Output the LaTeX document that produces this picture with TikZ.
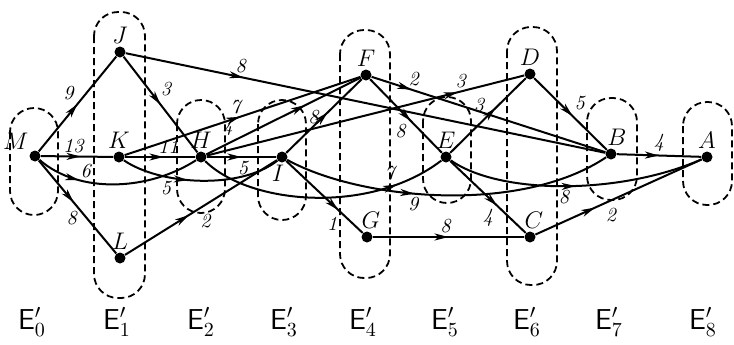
\documentclass[tikz,border=0pt]{standalone}
\usepackage{amsmath}
\usepackage{tikz}
\usetikzlibrary{arrows.meta,decorations.markings}

\tikzset{
  vtx/.style={circle,fill,inner sep=0pt,minimum size=5.5pt},
  nl/.style={font=\large,inner sep=1pt},
  wt/.style={font=\normalsize\itshape,inner sep=1.5pt},
  grp/.style={line width=.9pt,dash pattern=on 3.5pt off 2pt,rounded corners=12pt},
  link/.style={line width=1pt,postaction={decorate},
    decoration={markings,mark=at position #1 with {\arrow{Stealth[length=7pt,width=3.5pt,inset=2pt]}}}},
  link/.default=.5,
  lay/.style={font=\Large}
}

\begin{document}
\begin{tikzpicture}[x=.5pt,y=-.5pt]
  \useasboundingbox (0,0) rectangle (734,344);
  % dashed groups
  \draw[grp] (10,108) rectangle (58,215);
  \draw[grp] (94,12) rectangle (145,298);
  \draw[grp] (177,100) rectangle (225,213);
  \draw[grp] (258,100) rectangle (306,220);
  \draw[grp] (340,30) rectangle (390,278);
  \draw[grp] (423,97) rectangle (471,203);
  \draw[grp] (507,27) rectangle (557,285);
  \draw[grp] (587,98) rectangle (637,200);
  \draw[grp] (683,102) rectangle (732,205);
  % vertices
  \node[vtx,label={[nl]above left:$M$}] (M) at (35,156) {};
  \node[vtx,label={[nl]above:$J$}] (J) at (120,52) {};
  \node[vtx,label={[nl]above:$K$}] (K) at (119,157) {};
  \node[vtx,label={[nl]above:$L$}] (L) at (120,258) {};
  \node[vtx,label={[nl]above:$H$}] (H) at (201,157) {};
  \node[vtx,label={[nl,xshift=-2pt]below:$I$}] (I) at (282,157) {};
  \node[vtx,label={[nl]above:$F$}] (F) at (366,75) {};
  \node[vtx,label={[nl,xshift=2pt]above:$G$}] (G) at (367,237) {};
  \node[vtx,label={[nl]above:$E$}] (E) at (446,157) {};
  \node[vtx,label={[nl]above:$D$}] (D) at (530,74) {};
  \node[vtx,label={[nl,xshift=2pt]above:$C$}] (C) at (530,237) {};
  \node[vtx,label={[nl,xshift=3pt]above:$B$}] (B) at (611,154) {};
  \node[vtx,label={[nl]above:$A$}] (A) at (707,157) {};
  % arcs
  \draw[link=.5] (M) -- node[wt,pos=.5,above left]{9} (J);
  \draw[link=.55] (M) -- node[wt,pos=.45,above]{13} (K);
  \draw[link=.45] (M) -- node[wt,pos=.62,left=3pt]{8} (L);
  \draw[link=.27] (M) .. controls (80,195) and (150,190) .. node[wt,pos=.32,above]{6} (H);
  \draw[link=.5] (J) -- node[wt,pos=.45,above right]{3} (H);
  \draw[link=.245] (J) -- node[wt,pos=.24,above]{8} (B);
  \draw[link=.55] (K) -- node[wt,pos=.62,above]{11} (H);
  \draw[link=.49] (K) -- node[wt,pos=.47,above]{7} (F);
  \draw[link=.42] (K) .. controls (160,185) and (240,190) .. node[wt,pos=.3,below]{5} (I);
  \draw[link=.42] (L) -- node[wt,pos=.47,below right]{2} (I);
  \draw[link=.64] (H) -- node[wt,pos=.2,above left]{4} (F);
  \draw[link=.5] (H) -- node[wt,pos=.52,below]{5} (I);
  \draw[link=.79] (H) -- node[wt,pos=.8,above]{3} (D);
  \draw[link=.8] (H) .. controls (250,205) and (370,215) .. node[wt,pos=.82,above left]{7} (E);
  \draw[link=.55] (I) -- node[wt,pos=.48,left]{8} (F);
  \draw[link=.68] (I) -- node[wt,pos=.72,below left]{1} (G);
  \draw[link=.4] (I) .. controls (360,200) and (520,215) .. node[wt,pos=.42,below]{9} (B);
  \draw[link=.57] (F) -- node[wt,pos=.55,below left]{8} (E);
  \draw[link=.17] (F) -- node[wt,pos=.18,above]{2} (B);
  \draw[link=.5] (G) -- node[wt,pos=.48,above]{8} (C);
  \draw[link=.6] (E) -- node[wt,pos=.5,above left]{3} (D);
  \draw[link=.62] (E) -- node[wt,pos=.62,below left]{4} (C);
  \draw[link=.5] (E) .. controls (500,195) and (620,195) .. node[wt,pos=.5,below]{8} (A);
  \draw[link=.53] (D) -- node[wt,pos=.5,above right]{5} (B);
  \draw[link=.36] (C) -- node[wt,pos=.4,below right]{2} (A);
  \draw[link=.5] (B) -- node[wt,pos=.5,above]{4} (A);
  % layer names
  \node[lay] (e0) at (32,322) {$\mathsf{E}'_0$};
  \node[lay] (e1) at (117,322) {$\mathsf{E}'_1$};
  \node[lay] (e2) at (201,322) {$\mathsf{E}'_2$};
  \node[lay] (e3) at (284,322) {$\mathsf{E}'_3$};
  \node[lay] (e4) at (363,322) {$\mathsf{E}'_4$};
  \node[lay] (e5) at (445,322) {$\mathsf{E}'_5$};
  \node[lay] (e6) at (527,322) {$\mathsf{E}'_6$};
  \node[lay] (e7) at (609,322) {$\mathsf{E}'_7$};
  \node[lay] (e8) at (703,322) {$\mathsf{E}'_8$};
\end{tikzpicture}
\end{document}
